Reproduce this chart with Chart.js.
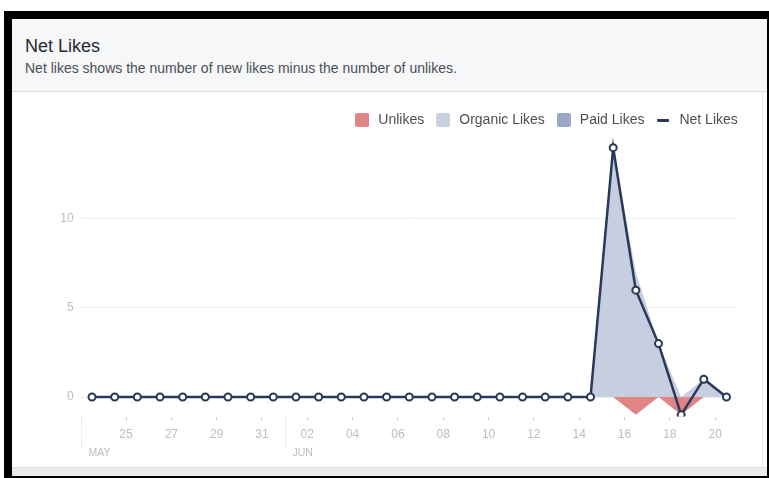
<!DOCTYPE html>
<html>
<head>
<meta charset="utf-8">
<script src="https://cdn.jsdelivr.net/npm/chart.js@4.4.1/dist/chart.umd.min.js"></script>
<style>
  body { margin: 0; background: #fff; font-family: "Liberation Sans", Arial, sans-serif; }
  #frame { position: absolute; left: 4px; top: 11px; width: 765px; height: 467px; background: #000; }
  #panel { position: absolute; left: 12px; top: 19px; width: 755px; height: 457px; background: #fff; }
  #head { position: absolute; left: 0; top: 0; width: 755px; height: 72px; background: #f6f7f9; border-bottom: 1px solid #dddfe2; }
  #title { position: absolute; left: 13px; top: 18px; font-size: 18px; line-height: 18px; color: #262a33; }
  #sub { position: absolute; left: 13px; top: 42px; font-size: 14px; line-height: 14px; color: #4b4f56; }
  #body { position: absolute; left: 0; top: 73px; width: 750px; height: 375px; border-right: 1px solid #e5e6e9; }
  #foot { position: absolute; left: 0; top: 448px; width: 755px; height: 9px; background: #e9ebee; border-top: 1px solid #dddfe2; box-sizing: border-box; }
</style>
</head>
<body>
<div id="frame"></div>
<div id="panel">
  <div id="head">
    <div id="title">Net Likes</div>
    <div id="sub">Net likes shows the number of new likes minus the number of unlikes.</div>
  </div>
  <div id="body"><canvas id="net-likes-chart"></canvas></div>
  <div id="foot"></div>
</div>
<script>
// one entry per day, 23 May .. 20 Jun
const days = ['23', '24', '25', '26', '27', '28', '29', '30', '31',
  '01', '02', '03', '04', '05', '06', '07', '08', '09', '10',
  '11', '12', '13', '14', '15', '16', '17', '18', '19', '20']
const months = ['MAY', 'JUN']
const unlikes = [0, 0, 0, 0, 0, 0, 0, 0, 0, 0, 0, 0, 0, 0, 0, 0, 0, 0, 0, 0, 0, 0, 0, 0, -1, 0, -1, 0, 0]
const organicLikes = [0, 0, 0, 0, 0, 0, 0, 0, 0, 0, 0, 0, 0, 0, 0, 0, 0, 0, 0, 0, 0, 0, 0, 14, 7, 3, 0, 1, 0]
const paidLikes = [0, 0, 0, 0, 0, 0, 0, 0, 0, 0, 0, 0, 0, 0, 0, 0, 0, 0, 0, 0, 0, 0, 0, 0, 0, 0, 0, 0, 0]
const netLikes = [0, 0, 0, 0, 0, 0, 0, 0, 0, 0, 0, 0, 0, 0, 0, 0, 0, 0, 0, 0, 0, 0, 0, 14, 6, 3, -1, 1, 0]

const NAVY = '#29395a'
const GRID = '#eceef1'
const TICK_TEXT = '#b9bec5'

Chart.defaults.font.family = '"Liberation Sans", Arial, sans-serif'

// points sit in the middle of their day
const toPoints = (arr) => arr.map((v, i) => ({ x: i + 0.5, y: v }))

// month marks: first day shown, then every day "01"
var monthMarks = [{ at: 0, label: months[0] }]
var m = 0
days.forEach((d, i) => {
    if (d === '01' && i > 0) monthMarks.push({ at: i, label: months[++m] })
})

function swatch(color, w, h, r) {
    const c = document.createElement('canvas')
    c.width = w
    c.height = h
    const g = c.getContext('2d')
    g.fillStyle = color
    g.beginPath()
    g.roundRect(0, 0, w, h, r)
    g.fill()
    return c
}

const colors = {
    unlikes: '#df8585',
    organic: '#c6cee0',
    paid: '#9ba9c9'
}
const legendSwatches = [
    swatch(colors.unlikes, 14, 14, 2),
    swatch('#c9d0e1', 14, 14, 2),
    swatch(colors.paid, 14, 14, 2),
    swatch(NAVY, 12, 3, 1)
]

var monthLabels = {
    id: 'monthLabels',
    afterDraw(chart) {
        const { ctx, chartArea: { bottom }, scales: { x } } = chart
        ctx.save()
        monthMarks.forEach((mk) => {
            const px = Math.round(x.getPixelForValue(mk.at)) + 0.5
            ctx.strokeStyle = '#c9ccd1'
            ctx.lineWidth = 1
            ctx.setLineDash([1, 2])
            ctx.beginPath()
            ctx.moveTo(px, bottom)
            ctx.lineTo(px, bottom + 32)
            ctx.stroke()
            ctx.setLineDash([])
            ctx.font = '10.5px "Liberation Sans", Arial, sans-serif'
            ctx.fillStyle = TICK_TEXT
            ctx.textAlign = 'left'
            ctx.textBaseline = 'middle'
            ctx.fillText(mk.label, px + 7, bottom + 37)
        })
        ctx.restore()
    }
}

// legend runs up to the right end of the grid lines
var legendShift = {
    id: 'legendShift',
    afterLayout(chart) {
        chart.legend.left += 10
        chart.legend.right += 10
    }
}

const ctx = document.getElementById('net-likes-chart')
new Chart(ctx, {
    type: 'line',
    data: {
        datasets: [{
            label: 'Unlikes',
            data: toPoints(unlikes),
            backgroundColor: colors.unlikes,
            borderWidth: 0,
            pointRadius: 0,
            fill: 'origin',
            order: 1
        }, {
            label: 'Organic Likes',
            data: toPoints(organicLikes),
            backgroundColor: colors.organic,
            borderWidth: 0,
            pointRadius: 0,
            fill: 'origin',
            order: 2
        }, {
            label: 'Paid Likes',
            data: toPoints(paidLikes),
            backgroundColor: colors.paid,
            borderWidth: 0,
            pointRadius: 0,
            fill: 'origin',
            order: 3
        }, {
            label: 'Net Likes',
            data: toPoints(netLikes),
            borderColor: NAVY,
            borderWidth: 2.5,
            backgroundColor: '#fff',
            pointBackgroundColor: '#fff',
            pointBorderColor: NAVY,
            pointBorderWidth: 2,
            pointRadius: 3.5,
            fill: false,
            order: 0
        }]
    },
    options: {
        responsive: true,
        maintainAspectRatio: false,
        animation: false,
        layout: { padding: { top: 11, right: 24.2, left: 0, bottom: 0 } },
        plugins: {
            tooltip: { enabled: false },
            legend: {
                position: 'top',
                align: 'end',
                labels: {
                    usePointStyle: true,
                    pointStyleWidth: 18,
                    padding: 10,
                    color: '#4b4f56',
                    font: { size: 14 },
                    sort: (a, b) => a.datasetIndex - b.datasetIndex,
                    generateLabels(chart) {
                        const items = Chart.defaults.plugins.legend.labels.generateLabels(chart)
                        items.forEach((it) => { it.pointStyle = legendSwatches[it.datasetIndex] })
                        return items
                    }
                }
            }
        },
        scales: {
            x: {
                type: 'linear',
                min: 0,
                max: 29,
                border: { display: false },
                grid: {
                    drawOnChartArea: false,
                    tickLength: 4,
                    color: (c) => (c.tick && c.tick.value === 0) ? 'rgba(0,0,0,0)' : '#cfd2d7'
                },
                ticks: {
                    stepSize: 2,
                    autoSkip: false,
                    includeBounds: false,
                    maxRotation: 0,
                    padding: 7,
                    color: TICK_TEXT,
                    font: { size: 12 },
                    callback: (v) => (v > 0 && v < days.length) ? days[v] : ''
                },
                afterFit(scale) { scale.height = 50.4 }
            },
            y: {
                min: -1.1,
                max: 14.6,
                border: { display: false },
                grid: { color: GRID, drawTicks: false },
                ticks: {
                    stepSize: 5,
                    padding: 7,
                    color: TICK_TEXT,
                    font: { size: 12 }
                },
                afterBuildTicks(scale) {
                    scale.ticks = scale.ticks.filter((t) => t.value >= 0 && t.value % 5 === 0)
                },
                afterFit(scale) { scale.width = 68.7 }
            }
        }
    },
    plugins: [monthLabels, legendShift]
})
</script>
</body>
</html>
